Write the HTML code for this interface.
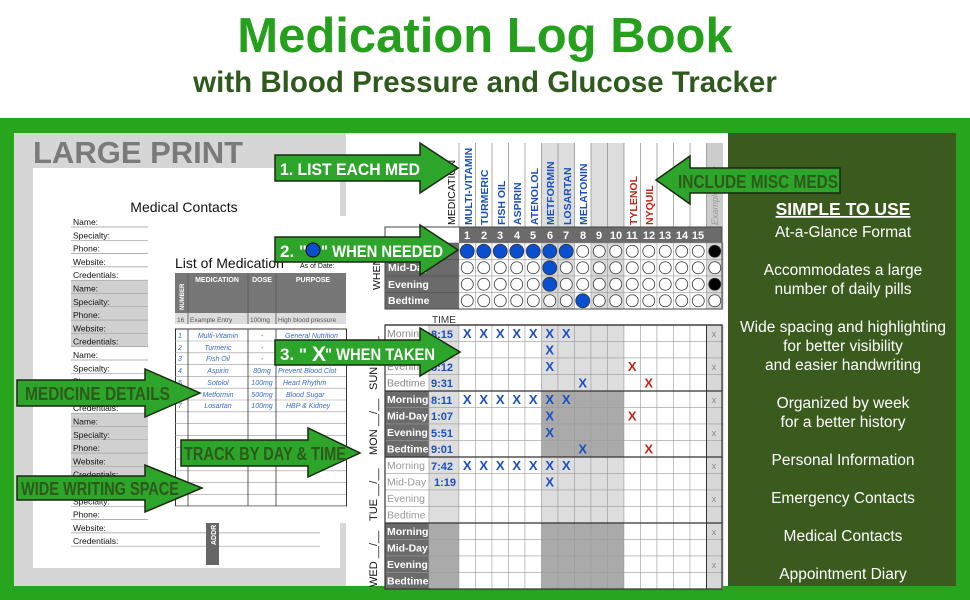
<!DOCTYPE html>
<html><head><meta charset="utf-8"><style>
*{margin:0;padding:0;box-sizing:border-box}
body{width:970px;height:600px;overflow:hidden;background:#fff;font-family:"Liberation Sans",sans-serif;position:relative}
.a{position:absolute}
</style></head><body>
<div class="a" style="left:0;top:8px;width:970px;text-align:center;font-size:49px;font-weight:bold;color:#25a01c">Medication Log Book</div>
<div class="a" style="left:0;top:66px;width:970px;text-align:center;font-size:29.5px;font-weight:bold;color:#2f5a1d">with Blood Pressure and Glucose Tracker</div>
<div class="a" style="left:0;top:118px;width:970px;height:482px;background:#27a51c"></div>
<div class="a" style="left:14px;top:133px;width:334px;height:453px;background:#d6d6d6"></div>
<div class="a" style="left:728px;top:133px;width:228px;height:453px;background:#3a5a1e"></div>
<div class="a" style="left:346px;top:133px;width:382px;height:453px;background:#fff"></div>
<div class="a" style="left:33px;top:135px;font-size:31px;font-weight:bold;color:#7a7a7a">LARGE PRINT</div>

<svg class="a" style="left:0;top:0" width="970" height="600" id="s" font-family="Liberation Sans, sans-serif">
<rect x="33" y="168" width="307" height="400" fill="#fff"/>
<text x="184" y="212" font-size="14" text-anchor="middle" fill="#111">Medical Contacts</text>
<g id="mc"></g>
<rect x="206" y="520" width="13" height="45" fill="#666"/>
<text x="216" y="545" font-size="7" fill="#fff" font-weight="bold" transform="rotate(-90 216 545)">ADDR</text>
<rect x="148" y="216" width="198" height="307" fill="#fff"/>
<text x="175" y="268" font-size="14" fill="#111">List of Medication</text>
<text x="300" y="268" font-size="7" fill="#111">As of Date:</text>
<rect x="175" y="273" width="171" height="40" fill="#777"/>
<rect x="175" y="313" width="171" height="11" fill="#ddd"/>
<g stroke="#555" stroke-width="0.8"><line x1="188" y1="273" x2="188" y2="324"/><line x1="248" y1="273" x2="248" y2="324"/><line x1="276" y1="273" x2="276" y2="324"/></g>
<text x="184" y="310" font-size="6" fill="#fff" font-weight="bold" transform="rotate(-90 184 310)">NUMBER</text>
<text x="217" y="282" font-size="7" fill="#fff" font-weight="bold" text-anchor="middle">MEDICATION</text>
<text x="262" y="282" font-size="7" fill="#fff" font-weight="bold" text-anchor="middle">DOSE</text>
<text x="313" y="282" font-size="7" fill="#fff" font-weight="bold" text-anchor="middle">PURPOSE</text>
<g font-size="6.5" fill="#555"><text x="177" y="322">16</text><text x="190" y="322">Example Entry</text><text x="250" y="322">100mg</text><text x="278" y="322">High blood pressure</text></g>
<rect x="175.5" y="329" width="171" height="177" fill="none" stroke="#333"/>
<g id="ml" stroke="#999" stroke-width="0.6"></g>
<g stroke="#333" stroke-width="0.8"><line x1="188" y1="329" x2="188" y2="506"/><line x1="248" y1="329" x2="248" y2="506"/><line x1="276" y1="329" x2="276" y2="506"/></g>
<g font-size="7" fill="#3a6ad0" font-style="italic">
<text x="178" y="338">1</text><text x="218" y="338" text-anchor="middle">Multi-Vitamin</text><text x="262" y="338" text-anchor="middle">-</text><text x="285" y="338">General Nutrition</text>
<text x="178" y="350">2</text><text x="218" y="350" text-anchor="middle">Turmeric</text><text x="262" y="350" text-anchor="middle">-</text>
<text x="178" y="361">3</text><text x="218" y="361" text-anchor="middle">Fish Oil</text><text x="262" y="361" text-anchor="middle">-</text>
<text x="178" y="373">4</text><text x="218" y="373" text-anchor="middle">Aspirin</text><text x="262" y="373" text-anchor="middle">80mg</text><text x="278" y="373">Prevent Blood Clot</text>
<text x="178" y="385">5</text><text x="218" y="385" text-anchor="middle">Sotolol</text><text x="262" y="385" text-anchor="middle">100mg</text><text x="283" y="385">Heart Rhythm</text>
<text x="178" y="397">6</text><text x="218" y="397" text-anchor="middle">Metformin</text><text x="262" y="397" text-anchor="middle">500mg</text><text x="286" y="397">Blood Sugar</text>
<text x="178" y="408">7</text><text x="218" y="408" text-anchor="middle">Losartan</text><text x="262" y="408" text-anchor="middle">100mg</text><text x="286" y="408">HBP &amp; Kidney</text>
</g>
<g id="ch"></g>
<g font-size="10.5" fill="#1a4fc0" font-weight="bold">
<text x="472" y="225" transform="rotate(-90 472 225)">MULTI-VITAMIN</text>
<text x="488" y="225" transform="rotate(-90 488 225)">TURMERIC</text>
<text x="505" y="225" transform="rotate(-90 505 225)">FISH OIL</text>
<text x="521" y="225" transform="rotate(-90 521 225)">ASPIRIN</text>
<text x="538" y="225" transform="rotate(-90 538 225)">ATENOLOL</text>
<text x="554" y="225" transform="rotate(-90 554 225)">METFORMIN</text>
<text x="571" y="225" transform="rotate(-90 571 225)">LOSARTAN</text>
<text x="587" y="225" transform="rotate(-90 587 225)">MELATONIN</text>
<text x="637" y="225" transform="rotate(-90 637 225)" fill="#c0281a">TYLENOL</text>
<text x="653" y="225" transform="rotate(-90 653 225)" fill="#c0281a">NYQUIL</text>
</g>
<text x="455" y="225" font-size="10.5" fill="#111" transform="rotate(-90 455 225)">MEDICATION</text>
<text x="718" y="225" font-size="9" fill="#999" font-style="italic" transform="rotate(-90 718 225)">Example Entry</text>
<g font-size="11" fill="#fff" font-weight="bold" text-anchor="middle">
<text x="467" y="239">1</text><text x="484" y="239">2</text><text x="500" y="239">3</text><text x="517" y="239">4</text><text x="533" y="239">5</text><text x="550" y="239">6</text><text x="566" y="239">7</text><text x="583" y="239">8</text><text x="599" y="239">9</text><text x="616" y="239">10</text><text x="632" y="239">11</text><text x="649" y="239">12</text><text x="665" y="239">13</text><text x="682" y="239">14</text><text x="698" y="239">15</text>
</g>
<g font-size="10.5" fill="#fff" font-weight="bold"><text x="388" y="271">Mid-Day</text><text x="388" y="288">Evening</text><text x="388" y="304">Bedtime</text></g>
<text x="380" y="290" font-size="10.5" fill="#111" transform="rotate(-90 380 290)">WHEN</text>
<text x="432" y="323" font-size="10" fill="#333">TIME</text>
<g font-size="10.5" id="lbl"></g>
<g font-size="11" fill="#1a4fc0" font-weight="bold">
<text x="431" y="338">8:15</text><text x="431" y="371">6:12</text><text x="431" y="387">9:31</text>
<text x="431" y="404">8:11</text><text x="431" y="420">1:07</text><text x="431" y="437">5:51</text><text x="431" y="453">9:01</text>
<text x="431" y="470">7:42</text><text x="434" y="486">1:19</text>
</g>
<g font-size="11" fill="#111">
<text x="377" y="390" transform="rotate(-90 377 390)">SUN __/__</text>
<text x="377" y="455" transform="rotate(-90 377 455)">MON __/__</text>
<text x="377" y="521" transform="rotate(-90 377 521)">TUE __/__</text>
<text x="377" y="587" transform="rotate(-90 377 587)">WED __/__</text>
</g>
<g id="xs" font-size="13" font-weight="bold" text-anchor="middle"></g>
<g stroke="#1a2a12" stroke-width="1.5" fill="#2ca52a">
<polygon points="275,155 420,155 420,143 458,168 420,193 420,181 275,181"/>
<polygon points="275,237 420,237 420,225 458,250 420,275 420,262 275,262"/>
<polygon points="275,340 420,340 420,328 460,352 420,376 420,365 275,365"/>
<polygon points="840,168 690,168 690,156 656,180 690,204 690,193 840,193"/>
<polygon points="17,380 145,380 145,369 200,393 145,417 145,406 17,406"/>
<polygon points="181,440 308,440 308,428 360,453 308,477 308,466 181,466"/>
<polygon points="17,476 145,476 145,465 202,488 145,512 145,500 17,500"/>
</g>
<g font-size="17" font-weight="bold" fill="#fff">
<text x="280" y="175" textLength="140" lengthAdjust="spacingAndGlyphs">1. LIST EACH MED</text>
<text x="280" y="257">2. "</text><text x="321" y="257" textLength="122" lengthAdjust="spacingAndGlyphs">" WHEN NEEDED</text>
<text x="280" y="360">3. "</text><text x="312" y="361" font-size="21">X</text><text x="325" y="360" textLength="110" lengthAdjust="spacingAndGlyphs">" WHEN TAKEN</text></g>
<circle cx="313" cy="250" r="7" fill="#0a4fd0" stroke="#000"/>
<g font-size="18" font-weight="bold" fill="#2d5a1a">
<text x="678" y="188" textLength="160" lengthAdjust="spacingAndGlyphs">INCLUDE MISC MEDS</text>
<text x="25" y="400" textLength="145" lengthAdjust="spacingAndGlyphs">MEDICINE DETAILS</text>
<text x="184" y="460" textLength="162" lengthAdjust="spacingAndGlyphs">TRACK BY DAY &amp; TIME</text>
<text x="21" y="495" textLength="158" lengthAdjust="spacingAndGlyphs">WIDE WRITING SPACE</text></g>
<g fill="#fff" text-anchor="middle" font-size="15.5">
<text x="843" y="215" font-size="17.5" font-weight="bold" text-decoration="underline">SIMPLE TO USE</text>
<text x="843" y="237">At-a-Glance Format</text>
<text x="843" y="275">Accommodates a large</text><text x="843" y="294">number of daily pills</text>
<text x="843" y="332">Wide spacing and highlighting</text><text x="843" y="351">for better visibility</text><text x="843" y="370">and easier handwriting</text>
<text x="843" y="408">Organized by week</text><text x="843" y="427">for a better history</text>
<text x="843" y="465">Personal Information</text>
<text x="843" y="503">Emergency Contacts</text>
<text x="843" y="541">Medical Contacts</text>
<text x="843" y="579">Appointment Diary</text>
</g>
</svg>
<script>
var NS="http://www.w3.org/2000/svg";
function el(p,t,a){var e=document.createElementNS(NS,t);for(var k in a)e.setAttribute(k,a[k]);document.getElementById(p).appendChild(e);return e;}
var labs=["Name:","Specialty:","Phone:","Website:","Credentials:"];
for(var k=0;k<25;k++){var y=222+k*13.3;var g=Math.floor(k/5)%2==1;
 if(g)el("mc","rect",{x:71,y:y-8,width:77,height:13,fill:"#d0d0d0"});
 el("mc","line",{x1:71,y1:y+5,x2:320,y2:y+5,stroke:"#999","stroke-width":0.7});
 var t=el("mc","text",{x:73,y:y+3,"font-size":8.5,fill:"#111"});t.textContent=labs[k%5];}
for(var k=0;k<15;k++){var y=341+k*11.8;el("ml","line",{x1:175,y1:y,x2:346,y2:y});}
var cx=function(i){return 459+(i-1)*16.5;};
for(var i=1;i<=16;i++){var f=(i==6||i==7||i==9||i==10)?"#ddd":(i==16?"#ccc":"#fff");
 el("ch","rect",{x:cx(i),y:143,width:16.5,height:84,fill:f});
 el("ch","line",{x1:cx(i),y1:143,x2:cx(i),y2:227,stroke:"#888","stroke-width":0.7});}
el("ch","rect",{x:459,y:227,width:263,height:16,fill:"#6b6b6b"});
el("ch","rect",{x:385,y:243,width:74,height:66,fill:"#6b6b6b"});
for(var r=0;r<4;r++){var y=243+r*16.5;
 for(var i=1;i<=16;i++){var f=(i==6||i==7||i==9||i==10||i==16)?"#d8d8d8":"#fff";
  el("ch","rect",{x:cx(i),y:y,width:16.5,height:16.5,fill:f,stroke:"#999","stroke-width":0.5});
  var blue=(r==0&&i<=7)||((r==1||r==2)&&i==6)||(r==3&&i==8);var blk=(i==16&&(r==0||r==2));
  el("ch","circle",{cx:cx(i)+8.25,cy:y+8.25,r:blue?7:6,fill:blue?"#0a4fd0":(blk?"#000":"#fff"),stroke:"#333","stroke-width":0.8});}
 el("ch","line",{x1:385,y1:y,x2:459,y2:y,stroke:"#444","stroke-width":0.6});}
el("ch","rect",{x:385,y:227,width:337,height:82,fill:"none",stroke:"#444","stroke-width":1});
var days=[{lab:"#fff",lt:"#888",time:"#ddd",mid:"#ddd"},{lab:"#6b6b6b",lt:"#fff",time:"#ddd",mid:"#aaa"},{lab:"#fff",lt:"#999",time:"#ddd",mid:"#ddd"},{lab:"#6b6b6b",lt:"#fff",time:"#aaa",mid:"#aaa"}];
var names=["Morning","Mid-Day","Evening","Bedtime"];
for(var d=0;d<4;d++){var D=days[d];
 for(var r=0;r<4;r++){var y=325+(d*4+r)*16.5;
  el("ch","rect",{x:385,y:y,width:44,height:16.5,fill:D.lab,stroke:"#999","stroke-width":0.5});
  el("ch","rect",{x:429,y:y,width:30,height:16.5,fill:D.time,stroke:"#999","stroke-width":0.5});
  for(var i=1;i<=16;i++){var f=(i>=6&&i<=10)?D.mid:(i==16?"#d8d8d8":"#fff");
   el("ch","rect",{x:cx(i),y:y,width:16.5,height:16.5,fill:f,stroke:"#999","stroke-width":0.5});}
  var t=el("lbl","text",{x:387,y:y+12,fill:D.lt,"font-weight":D.lt=="#fff"?"bold":"normal"});t.textContent=names[r];
  if(r%2==0){var t2=el("lbl","text",{x:714,y:y+12,fill:"#888","font-size":9,"text-anchor":"middle"});t2.textContent="x";}}
 el("ch","line",{x1:385,y1:325+d*66,x2:722,y2:325+d*66,stroke:"#333","stroke-width":1.2});}
el("ch","rect",{x:385,y:325,width:337,height:264,fill:"none",stroke:"#333","stroke-width":1.2});
el("ch","line",{x1:706.5,y1:325,x2:706.5,y2:589,stroke:"#333","stroke-width":1});
var X=[];function add(d,r,i,c){X.push([d,r,i,c]);}
for(var d=0;d<3;d++){for(var i=1;i<=7;i++)add(d,0,i,"#1a4fc0");add(d,1,6,"#1a4fc0");}
for(var d=0;d<2;d++){add(d,2,6,"#1a4fc0");add(d,3,8,"#1a4fc0");add(d,d==1?1:2,11,"#c0281a");add(d,3,12,"#c0281a");}
X.forEach(function(a){var t=el("xs","text",{x:cx(a[2])+8.25,y:325+(a[0]*4+a[1])*16.5+13,fill:a[3]});t.textContent="X";});
</script>
</body></html>
